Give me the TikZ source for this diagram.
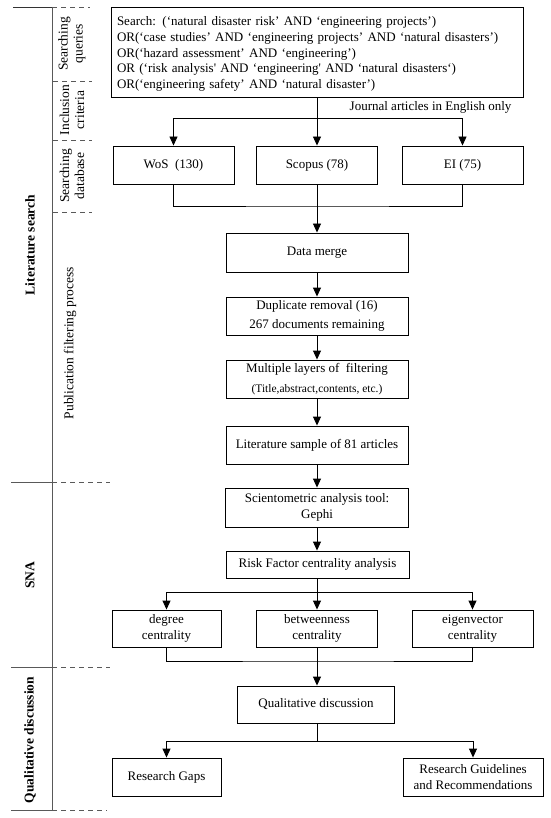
\documentclass[tikz,border=0pt]{standalone}
\usepackage{fontspec}
\newfontfamily\tms{Liberation Serif}
\usetikzlibrary{arrows.meta}
\begin{document}
\begin{tikzpicture}[x=1pt,y=-1pt,
  every node/.style={font=\tms\fontsize{13}{15.7}\selectfont},
  box/.style={draw,line width=0.9pt,inner sep=0pt,align=center,minimum height=38pt},
  conn/.style={line width=0.9pt},
  arr/.style={conn,-{Triangle[width=8pt,length=9pt]}},
  secsolid/.style={line width=0.9pt,draw=black!65},
  secdash/.style={line width=0.9pt,draw=black!65,dash pattern=on 5pt off 4pt},
  vlab/.style={rotate=90,align=center,font=\tms\fontsize{13.5}{15}\selectfont},
  blab/.style={rotate=90,align=center,font=\tms\bfseries\fontsize{13.5}{15}\selectfont}]
\useasboundingbox (0,0) rectangle (550,818);

% left structure
\draw[secsolid] (52,7) -- (52,810);
\draw[secsolid,draw=black!80] (13,7) -- (52,7);
\draw[secdash] (52,7) -- (90,7);
\draw[secdash] (53,81) -- (92,81);
\draw[secdash] (53,140) -- (92,140);
\draw[secdash] (53,212) -- (92,212);
\draw[secsolid] (11,482) -- (52,482);
\draw[secdash] (52,482) -- (110,482);
\draw[secsolid] (11,667) -- (52,667);
\draw[secdash] (52,667) -- (110,667);
\draw[secsolid] (11,810) -- (52,810);
\draw[secdash] (52,810) -- (107,810);

\node[vlab] (lq) at (72,44) {Searching\\queries};
\node[vlab] (lc) at (72,110) {Inclusion\\criteria};
\node[vlab] (ld) at (72,176) {Searching\\database};
\node[vlab] (lp) at (70,343) {Publication filtering process};
\node[blab] (ls) at (30,245) {Literature search};
\node[blab] (lsna) at (30,575) {SNA};
\node[blab] (lqd) at (30,740) {Qualitative discussion};

% boxes
\node[draw,line width=0.9pt,align=left,text width=400pt,inner xsep=6pt,inner ysep=0pt,minimum height=90pt] (search) at (317,52)
{\rule{0pt}{13pt}Search: (‘natural disaster risk’ AND ‘engineering projects’)\\
OR(‘case studies’ AND ‘engineering projects’ AND ‘natural disasters’)\\
OR(‘hazard assessment’ AND ‘engineering’)\\
OR (‘risk analysis' AND ‘engineering' AND ‘natural disasters‘)\\
OR(‘engineering safety’ AND ‘natural disaster’)};
\node[anchor=east] (crit) at (515,107) {Journal articles in English only};

\node[box,minimum width=121pt] (wos) at (173.5,165) {WoS\ \ (130)};
\node[box,minimum width=121pt] (scopus) at (317,165) {Scopus (78)};
\node[box,minimum width=121pt] (ei) at (462.5,165) {EI (75)};

\node[box,minimum width=182pt,minimum height=39pt] (merge) at (317,252.5) {Data merge};
\node[box,minimum width=182pt] (dup) at (317,316) {Duplicate removal (16)\\[4pt]267 documents remaining};
\node[box,minimum width=182pt] (multi) at (317,379) {Multiple layers of\ \ filtering\\[4pt]{\fontsize{11.5}{13}\selectfont(Title,abstract,contents, etc.)}};
\node[box,minimum width=182pt] (sample) at (317,445) {Literature sample of 81 articles};
\node[box,minimum width=183pt,minimum height=39pt] (sciento) at (317,507.5) {Scientometric analysis tool:\\Gephi};
\node[box,minimum width=183pt,minimum height=27pt] (risk) at (317.5,564.5) {Risk Factor centrality analysis};

\node[box,minimum width=109pt,minimum height=37pt] (deg) at (166.5,628.5) {degree\\centrality};
\node[box,minimum width=121pt,minimum height=37pt] (btw) at (317,628.5) {betweenness\\centrality};
\node[box,minimum width=121pt,minimum height=37pt] (eig) at (472.5,628.5) {eigenvector\\centrality};

\node[box,minimum width=157pt,minimum height=37pt] (qual) at (316,704.5) {Qualitative discussion};
\node[box,minimum width=109pt] (gaps) at (166.5,777) {Research Gaps};
\node[box,minimum width=140pt] (guide) at (473,777) {Research Guidelines\\and Recommendations};

% connectors
\coordinate (h1) at (317,118);
\coordinate (m1) at (317,206);
\coordinate (h2) at (317,592);
\coordinate (m2) at (317,661);
\coordinate (h3) at (317,741);

\draw[arr] (search.south -| scopus.north) -- (scopus.north);
\draw[arr] (h1) -| (wos.north);
\draw[arr] (h1) -| (ei.north);
\draw[conn] (wos.south) |- (m1) -| (ei.south);
\draw[arr] (scopus.south) -- (merge.north);
\draw[arr] (merge) -- (dup);
\draw[arr] (dup) -- (multi);
\draw[arr] (multi) -- (sample);
\draw[arr] (sample) -- (sciento);
\draw[arr] (sciento.south -| h2) -- (risk.north -| h2);
\draw[arr] (risk.south -| h2) -- (btw.north);
\draw[arr] (h2) -| (deg.north);
\draw[arr] (h2) -| (eig.north);
\draw[conn] (deg.south) |- (m2) -| (eig.south);
\draw[arr] (btw.south) -- (qual.north -| btw.south);
\draw[conn] (qual.south -| h3) -- (h3);
\draw[arr] (h3) -| (gaps.north);
\draw[arr] (h3) -| (guide.north);
\end{tikzpicture}
\end{document}
